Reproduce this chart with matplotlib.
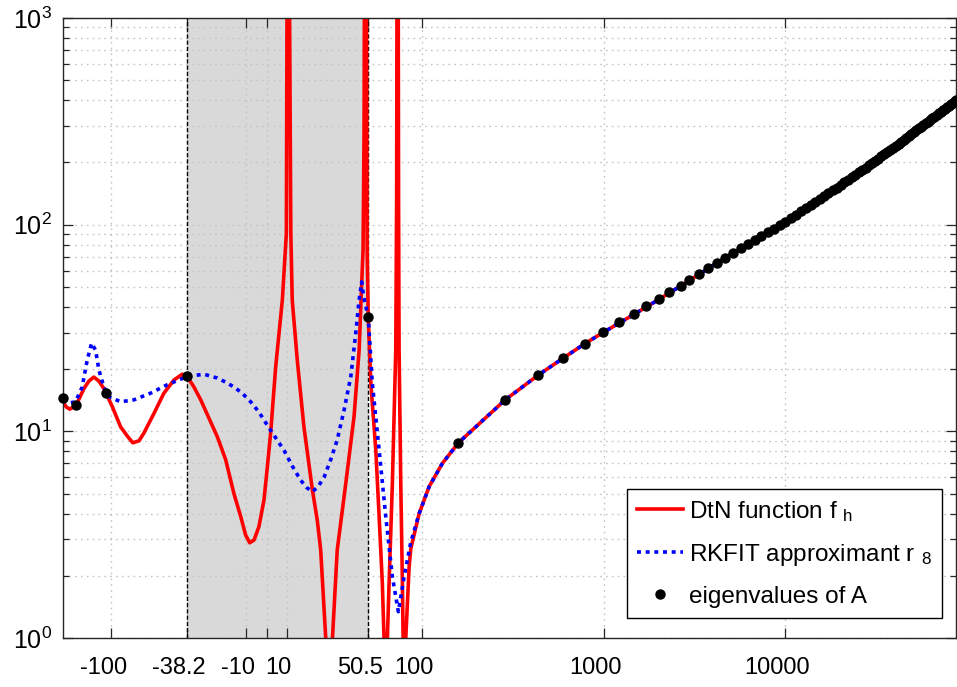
import matplotlib
matplotlib.use('Agg')
import matplotlib.pyplot as plt
from matplotlib.lines import Line2D
from matplotlib.transforms import ScaledTranslation
from matplotlib.ticker import LogLocator, NullLocator, LogFormatterMathtext

plt.rcParams['font.family'] = ['Liberation Sans', 'DejaVu Sans']
plt.rcParams['mathtext.fontset'] = 'custom'
plt.rcParams['mathtext.rm'] = 'Liberation Sans'
plt.rcParams['mathtext.it'] = 'Liberation Sans:italic'

# DtN function f_h (poles/zeros go off the axes)
red_x = [-184, -176.4, -168.7, -155.7, -141.1, -132.6, -124.4, -116.7, -109.6, -98.6,
         -88.6, -80.8, -75.9, -70.2, -66.0, -58.1, -51.2, -45.1, -40.6, -38.2,
         -35.0, -32.1, -28.6, -24.4, -20.3, -16.2, -12.8, -10.4, -8.4, -6.2,
         -3.8, -1.3, 0.35, 2.0, 4.5, 7.8, 9.8, 10.1, 10.75, 11.4,
         12.0, 12.7, 15.2, 18.5, 22.7, 25.1, 26.8, 29.3, 30.7, 32.1,
         34.1, 38.0, 42.2, 45.0, 46.5, 47.3, 47.9, 48.8, 49.4, 49.8,
         50.5, 52.2, 55.6, 58.0, 60.4, 61.7, 62.9, 64.4, 65.8, 68.6,
         71.6, 72.4, 73.3, 74.2, 74.7, 76.3, 77.9, 78.6, 79.6, 81.3,
         84.8, 86.6, 96.3, 109.3, 129.3, 158.5, 286.6, 435.6, 598, 784,
         994, 1473, 2023, 3358, 4513, 6893, 10090, 16050, 24530, 37400,
         57090, 87200]
red_y = [13.9, 13.1, 12.8, 13.4, 16.1, 17.5, 18.3, 17.5, 16.1, 13.2,
         10.5, 9.4, 8.8, 9.0, 9.8, 12.2, 15.3, 17.7, 18.9, 18.5,
         16.4, 14.2, 11.6, 9.4, 7.3, 5.0, 3.86, 3.15, 2.89, 2.98,
         3.46, 4.65, 6.7, 9.8, 20.5, 43.2, 91, 1000, 1e5, 1000,
         91, 43.2, 22.1, 10.5, 5.2, 3.72, 2.67, 1.0, 0.5, 1.0,
         2.67, 5.6, 11.8, 24.7, 52.1, 75.4, 277, 1e5, 1000, 75.4,
         35.8, 17.1, 8.1, 3.86, 1.84, 1.0, 0.5, 1.0, 1.84, 5.6,
         24.7, 131, 1e5, 131, 24.7, 5.6, 1.84, 1.0, 0.5, 1.0,
         2.2, 2.7, 4.0, 5.4, 7.0, 8.8, 14.2, 18.7, 22.6, 26.5,
         30.1, 36.9, 43.6, 57.5, 68, 85, 104, 136, 175, 228,
         302, 400]

# RKFIT approximant r_8
blue_x = [-184, -170.8, -156.9, -144.3, -135.4, -128.1, -121.7, -116.7, -109.6, -102.8,
          -88.6, -74.9, -60.6, -49.1, -38.2, -30.8, -24.4, -20.3, -16.2, -12.1,
          -7.9, -3.8, 0.35, 4.5, 8.6, 12.7, 16.9, 19.8, 22.7, 25.5,
          28.5, 31.4, 34.1, 37.2, 40.5, 43.1, 45.0, 46.5, 47.6, 50.5,
          53.2, 58.0, 63.1, 68.6, 74.0, 79.6, 86.6, 96.3, 109.3, 129.3,
          158.5, 286.6, 435.6, 598, 784, 994, 1473, 2023, 3358, 4513,
          6893, 10090, 16050, 24530, 37400, 57090, 87200]
blue_y = [14.2, 13.7, 13.9, 16.4, 22.1, 26.7, 24.7, 19.8, 16.4, 14.7,
          13.9, 14.2, 15.3, 16.8, 18.4, 18.9, 18.1, 17.3, 16.4, 15.3,
          13.9, 12.4, 10.7, 9.3, 8.1, 6.8, 5.8, 5.35, 5.1, 5.4,
          6.0, 7.3, 9.1, 12.7, 18.4, 29.8, 43.2, 52.9, 45, 35.8,
          17.1, 8.1, 3.86, 1.98, 1.34, 1.98, 2.9, 4.0, 5.4, 7.0,
          8.8, 14.2, 18.7, 22.6, 26.5, 30.1, 36.9, 43.6, 57.5, 68,
          85, 104, 136, 175, 228, 302, 400]

# eigenvalues of A and f_h there
eig_x = [-184, -155.7, -107.2, -38.2, 50.5, 158.5, 286.6, 435.6, 598, 784,
         994, 1218, 1473, 1715, 2023, 2297, 2649, 2959, 3358, 3770,
         4212, 4679, 5170, 5685, 6225, 6790, 7379, 7992, 8630, 9293,
         9980, 10692, 11428, 12188, 12973, 13783, 14617, 15475, 16358, 17266,
         18198, 19155, 20136, 21141, 22171, 23226, 24305, 25408, 26536, 27689,
         28866, 30068, 31294, 32544, 33819, 35119, 36443, 37791, 39164, 40562,
         41984, 43431, 44902, 46397, 47917, 49462, 51031, 52624, 54242, 55885,
         57552, 59244, 60960, 62700, 64465, 66255, 68069, 69907, 71770, 73658,
         75570, 77507, 79468, 81453, 83463, 85498, 87025]
eig_y = [14.5, 13.4, 15.4, 18.5, 35.8, 8.8, 14.2, 18.7, 22.6, 26.5,
         30.1, 33.7, 36.9, 40.5, 43.6, 47.2, 50.6, 54.0, 57.5, 61.4,
         65.4, 69.3, 73.0, 76.8, 80.5, 84.3, 88.1, 91.9, 95.7, 99.5,
         103.4, 107.5, 111.8, 116.0, 120.3, 124.6, 128.9, 133.1, 137.5, 142.0,
         146.5, 151.1, 155.6, 160.2, 164.8, 169.3, 174.0, 178.9, 183.9, 188.8,
         193.8, 198.9, 203.9, 209.0, 214.1, 219.2, 224.4, 229.6, 235.1, 240.6,
         246.2, 251.8, 257.4, 263.1, 268.8, 274.5, 280.3, 286.2, 292.0, 297.8,
         303.7, 309.6, 315.4, 321.4, 327.4, 333.4, 339.4, 345.5, 351.5, 357.6,
         363.8, 369.8, 376.0, 382.2, 388.4, 394.7, 399.4]

xticks = [-100, -38.2, -10, 0, 10, 50.5, 100, 1000, 10000]
xticklabels = ['-100', '-38.2', '-10', '', '10', '50.5', '100', '1000', '10000']
band = (-38.2, 50.5)

fig = plt.figure(figsize=(9.57, 6.87), dpi=100)
ax = fig.add_axes([63 / 957, 49 / 687, 893 / 957, 620 / 687])

ax.axvspan(band[0], band[1], color='#d9d9d9', lw=0, zorder=0.2)
for xv in band:
    ax.axvline(xv, color='k', lw=1.0, ls=(0, (3, 1.5)), zorder=1.6)

ax.plot(red_x, red_y, color='#ff0000', lw=2.6, zorder=2)
ax.plot(blue_x, blue_y, color='#0000ff', lw=2.6, ls=(0, (1.1, 1.3)), zorder=3)
ax.plot(eig_x, eig_y, 'o', color='k', ms=6.5, ls='none', clip_on=False, zorder=4)

ax.set_xscale('symlog', linthresh=30, linscale=0.3)
ax.set_yscale('log')
ax.set_xlim(-184, 87025)
ax.set_ylim(1, 1000)

ax.set_xticks(xticks)
ax.set_xticklabels(xticklabels)
ax.xaxis.set_minor_locator(NullLocator())
ax.yaxis.set_major_locator(LogLocator(base=10))
ax.yaxis.set_minor_locator(LogLocator(base=10, subs=range(2, 10)))
ax.yaxis.set_major_formatter(LogFormatterMathtext())

ax.set_axisbelow(True)
gs = dict(color='#c4c4c4', lw=1.0, ls=(0, (1.2, 3.0)))
ax.grid(True, which='major', **gs)
ax.grid(True, which='minor', axis='y', **gs)

ax.tick_params(which='both', direction='in', top=True, right=True,
               color='#262626', width=0.9)
ax.tick_params(which='major', length=7.2)
ax.tick_params(which='minor', length=4.3)
ax.tick_params(axis='x', pad=14, labelsize=17)
ax.tick_params(axis='y', pad=8, labelsize=18)
shift = ScaledTranslation(-8 / 100, 0, fig.dpi_scale_trans)
for lab in ax.get_xticklabels():
    lab.set_transform(lab.get_transform() + shift)
for sp in ax.spines.values():
    sp.set_linewidth(1.0)
    sp.set_color('#262626')

handles = [Line2D([], [], color='#ff0000', lw=2.6),
           Line2D([], [], color='#0000ff', lw=2.6, ls=(0, (1.1, 1.3))),
           Line2D([], [], marker='o', color='k', ms=6.5, ls='none')]
labels = ['DtN function f $_\\mathregular{h}$',
          'RKFIT approximant r $_\\mathregular{8}$',
          'eigenvalues of A']
leg = ax.legend(handles, labels, loc='lower right',
                bbox_to_anchor=((942 - 63) / 893, (638 - 618) / 620),
                borderaxespad=0, fontsize=17.5, handlelength=1.9,
                handletextpad=0.25, labelspacing=0.74, borderpad=0.42,
                fancybox=False, framealpha=1, edgecolor='k')
leg.get_frame().set_linewidth(1.0)

fig.savefig('out.png', dpi=100)
